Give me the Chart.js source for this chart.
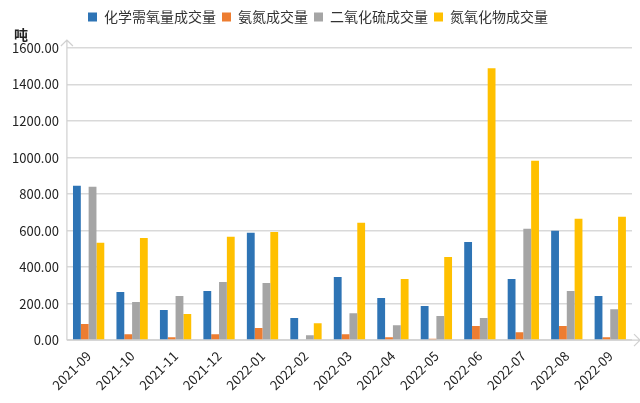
<!DOCTYPE html>
<html lang="zh">
<head>
<meta charset="UTF-8">
<title>成交量</title>
<script src="https://cdn.jsdelivr.net/npm/chart.js"></script>
<style>
  html, body { margin: 0; padding: 0; background: #fff; }
  #wrap { width: 640px; height: 403px; }
</style>
</head>
<body>
<div id="wrap"><canvas id="myChart"></canvas></div>
<script>
// 月份
const months = ['2021-09','2021-10','2021-11','2021-12','2022-01','2022-02','2022-03',
                '2022-04','2022-05','2022-06','2022-07','2022-08','2022-09'];
// 各项成交量(吨)
const cod   = [846, 264, 165, 269, 588, 121, 346, 231, 187, 538, 335, 599, 242];
const nh3n  = [88, 33, 16, 33, 66, 0, 33, 16, 8, 77, 44, 77, 16];
const so2   = [840, 209, 242, 319, 313, 27, 148, 82, 132, 121, 610, 269, 170];
const nox   = [533, 560, 143, 566, 593, 93, 643, 335, 456, 1489, 983, 665, 676];
const seriesNames = ['化学需氧量成交量','氨氮成交量','二氧化硫成交量','氮氧化物成交量'];
const yTicks = [0, 200, 400, 600, 800, 1000, 1200, 1400, 1600];

const font = "'Noto Sans CJK SC', 'Noto Sans', sans-serif";

// 图例下方留空
const legendGap = {
  id: 'legendGap',
  beforeInit(chart) {
    const fit = chart.legend.fit;
    chart.legend.fit = function () {
      fit.bind(chart.legend)();
      this.height += 14;
    };
  }
};

// 坐标轴箭头 + 单位
const axisDeco = {
  id: 'axisDeco',
  afterDraw(chart) {
    const c = chart.ctx, a = chart.chartArea;
    c.save();
    c.strokeStyle = '#d0d0d0';
    c.lineWidth = 1.2;
    // y axis
    c.beginPath();
    c.moveTo(a.left, a.bottom); c.lineTo(a.left, a.top - 8);
    c.moveTo(a.left - 6, a.top - 2); c.lineTo(a.left, a.top - 8); c.lineTo(a.left + 6, a.top - 2);
    // x axis
    c.moveTo(a.left, a.bottom); c.lineTo(a.right + 8, a.bottom);
    c.moveTo(a.right + 2, a.bottom - 6); c.lineTo(a.right + 8, a.bottom); c.lineTo(a.right + 2, a.bottom + 6);
    c.stroke();
    c.fillStyle = '#222';
    c.font = "bold 14px " + font;
    c.textAlign = 'left';
    c.textBaseline = 'middle';
    c.fillText('吨', 14, a.top - 13);
    c.restore();
  }
};

const colors = ['#2e74b5', '#ed7d31', '#a5a5a5', '#ffc000'];
const values = [cod, nh3n, so2, nox];

new Chart(document.getElementById('myChart'), {
  type: 'bar',
  data: {
    labels: months,
    datasets: seriesNames.map((n, i) => ({
      label: n,
      data: values[i],
      backgroundColor: colors[i],
      borderWidth: 0,
      categoryPercentage: 0.72,
      barPercentage: 1.0
    }))
  },
  options: {
    responsive: true,
    maintainAspectRatio: false,
    animation: false,
    layout: { padding: { top: 4, right: 8, left: 4, bottom: 2 } },
    plugins: {
      legend: {
        position: 'top',
        labels: {
          boxWidth: 9, boxHeight: 9, padding: 6,
          color: '#333',
          font: { family: font, size: 14 }
        }
      },
      tooltip: { enabled: false }
    },
    scales: {
      x: {
        grid: { display: false, drawTicks: false },
        border: { display: false },
        ticks: {
          color: '#222', maxRotation: 45, minRotation: 45, padding: 8,
          font: { family: font, size: 13 }
        }
      },
      y: {
        min: 0, max: 1600,
        afterBuildTicks(axis) { axis.ticks = yTicks.map(v => ({ value: v })); },
        grid: { color: '#d9d9d9', lineWidth: 1.5, drawTicks: false },
        border: { display: false },
        ticks: {
          color: '#222', padding: 8,
          font: { family: font, size: 13 },
          callback: v => Number(v).toFixed(2)
        }
      }
    }
  },
  plugins: [legendGap, axisDeco]
});
</script>
</body>
</html>
